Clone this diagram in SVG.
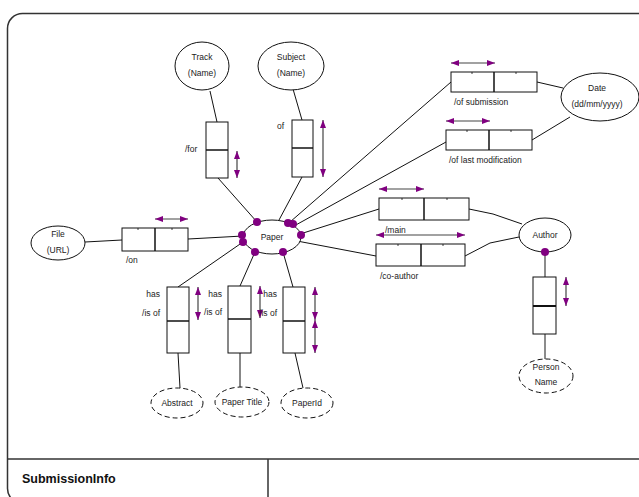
<svg xmlns="http://www.w3.org/2000/svg" width="639" height="497" viewBox="0 0 639 497">
<style>
text{font-family:"Liberation Sans",Arial,sans-serif;font-size:8.5px;fill:#222}
.c{text-anchor:middle}
.r{text-anchor:end}
.b{font-weight:bold;font-size:12.5px;fill:#111}
.ell{fill:#fff;stroke:#111;stroke-width:1}
.dash{fill:#fff;stroke:#111;stroke-width:1;stroke-dasharray:5,3}
.box{fill:#fff;stroke:#111;stroke-width:1}
.div{stroke:#111;stroke-width:1.5}
.ln{stroke:#111;stroke-width:1;fill:none}
.gl{stroke:#666;stroke-width:1.5;fill:none}
.arr{stroke:#444;stroke-width:1.2;marker-start:url(#ah);marker-end:url(#ah)}
.dot{fill:#800080}
.tk{stroke:#111;stroke-width:0.8}
</style>
<defs>
<marker id="ah" viewBox="0 0 8 6" refX="8" refY="3" markerWidth="8" markerHeight="6" markerUnits="userSpaceOnUse" orient="auto-start-reverse"><path d="M0,0 L8,3 L0,6 z" fill="#800080"/></marker>
</defs>
<rect x="7.5" y="13.5" width="645" height="490" rx="15" fill="#fff" stroke="#333" stroke-width="1.5"/>
<line x1="7" y1="459" x2="639" y2="459" stroke="#333" stroke-width="1.5"/>
<line x1="268" y1="459" x2="268" y2="497" stroke="#333" stroke-width="1.5"/>
<text class="b" x="22" y="483">SubmissionInfo</text>

<g id="connectors">
<line class="ln" x1="210" y1="91" x2="217" y2="122"/>
<line class="ln" x1="218" y1="178" x2="257" y2="222"/>
<line class="ln" x1="293" y1="89" x2="302" y2="120"/>
<line class="ln" x1="302" y1="177" x2="279" y2="220"/>
<line class="ln" x1="290" y1="222" x2="451" y2="82"/>
<line class="ln" x1="294" y1="226" x2="446" y2="142"/>
<line class="ln" x1="537" y1="82" x2="563" y2="88"/>
<line class="ln" x1="532" y1="140" x2="570" y2="117"/>
<line class="ln" x1="85" y1="242" x2="122" y2="240"/>
<line class="ln" x1="188" y1="239" x2="243" y2="236"/>
<line class="ln" x1="300" y1="234" x2="379" y2="209"/>
<line class="ln" x1="297" y1="241" x2="376" y2="256"/>
<polyline class="ln" points="469,209 493,214 522,224"/>
<polyline class="ln" points="465,256 490,243 519,237"/>
<line class="gl" x1="545" y1="252" x2="545" y2="277"/>
<line class="gl" x1="545" y1="334" x2="545" y2="359"/>
<line class="ln" x1="178" y1="287" x2="243" y2="242"/>
<line class="ln" x1="178" y1="353" x2="180" y2="388"/>
<line class="ln" x1="240" y1="286" x2="255" y2="252"/>
<line class="ln" x1="240" y1="353" x2="240" y2="388"/>
<line class="ln" x1="293" y1="287" x2="283" y2="252"/>
<line class="ln" x1="295" y1="353" x2="303" y2="388"/>
</g>

<g id="paper">
<ellipse class="ell" cx="272" cy="237" rx="29" ry="17"/>
<text class="c" x="272" y="240">Paper</text>
<circle class="dot" cx="257" cy="222" r="4"/>
<circle class="dot" cx="288" cy="223" r="4"/>
<circle class="dot" cx="293" cy="224" r="4"/>
<circle class="dot" cx="301" cy="235" r="4"/>
<circle class="dot" cx="242" cy="235" r="4"/>
<circle class="dot" cx="243" cy="242" r="4"/>
<circle class="dot" cx="255" cy="252" r="4"/>
<circle class="dot" cx="283" cy="252" r="4"/>
</g>

<g id="track">
<ellipse class="ell" cx="202" cy="66" rx="27" ry="24"/>
<text class="c" x="202" y="60">Track</text>
<text class="c" x="202" y="76">(Name)</text>
</g>
<g id="track-rel">
<rect class="box" x="206" y="122" width="22" height="56"/>
<line class="div" x1="206" y1="150" x2="228" y2="150"/>
<line class="arr" x1="237" y1="151" x2="237" y2="178"/>
<text x="185" y="152">/for</text>
</g>

<g id="subject">
<ellipse class="ell" cx="291" cy="66" rx="33" ry="24"/>
<text class="c" x="291" y="60">Subject</text>
<text class="c" x="291" y="76">(Name)</text>
</g>
<g id="subject-rel">
<rect class="box" x="292" y="120" width="21" height="57"/>
<line class="div" x1="292" y1="148" x2="313" y2="148"/>
<line class="arr" x1="323" y1="120" x2="323" y2="177"/>
<text x="277" y="129">of</text>
</g>

<g id="submission-rel">
<rect class="box" x="451" y="72" width="86" height="20"/>
<line class="div" x1="494" y1="72" x2="494" y2="92"/>
<line class="tk" x1="472" y1="72" x2="472" y2="74"/>
<line class="tk" x1="516" y1="72" x2="516" y2="74"/>
<line class="arr" x1="451" y1="63" x2="495" y2="63"/>
<text x="454" y="105">/of submission</text>
</g>
<g id="lastmod-rel">
<rect class="box" x="446" y="130" width="86" height="20"/>
<line class="div" x1="489" y1="130" x2="489" y2="150"/>
<line class="tk" x1="467" y1="130" x2="467" y2="132"/>
<line class="tk" x1="511" y1="130" x2="511" y2="132"/>
<line class="arr" x1="446" y1="121" x2="490" y2="121"/>
<text x="449" y="163">/of last modification</text>
</g>
<g id="date">
<ellipse class="ell" cx="600" cy="97" rx="39" ry="24"/>
<text class="c" x="597" y="91">Date</text>
<text class="c" x="597" y="107">(dd/mm/yyyy)</text>
</g>

<g id="file">
<ellipse class="ell" cx="58" cy="243" rx="27" ry="17"/>
<text class="c" x="58" y="237">File</text>
<text class="c" x="58" y="253">(URL)</text>
</g>
<g id="on-rel">
<rect class="box" x="122" y="228" width="66" height="23"/>
<line class="div" x1="155" y1="228" x2="155" y2="251"/>
<line class="tk" x1="138" y1="228" x2="138" y2="230"/>
<line class="tk" x1="172" y1="228" x2="172" y2="230"/>
<line class="arr" x1="155" y1="219" x2="188" y2="219"/>
<text x="126" y="263">/on</text>
</g>

<g id="main-rel">
<rect class="box" x="379" y="198" width="90" height="22"/>
<line class="div" x1="424" y1="198" x2="424" y2="220"/>
<line class="tk" x1="402" y1="198" x2="402" y2="200"/>
<line class="tk" x1="447" y1="198" x2="447" y2="200"/>
<line class="arr" x1="379" y1="189" x2="424" y2="189"/>
<text x="385" y="233">/main</text>
</g>
<g id="coauthor-rel">
<line class="arr" x1="376" y1="235" x2="465" y2="235"/>
<rect class="box" x="376" y="244" width="89" height="22"/>
<line class="div" x1="421" y1="244" x2="421" y2="266"/>
<line class="tk" x1="398" y1="244" x2="398" y2="246"/>
<line class="tk" x1="443" y1="244" x2="443" y2="246"/>
<text x="380" y="279">/co-author</text>
</g>
<g id="author">
<ellipse class="ell" cx="545" cy="235" rx="26" ry="17"/>
<text class="c" x="545" y="238">Author</text>
<circle class="dot" cx="545" cy="252" r="4"/>
</g>
<g id="person-rel">
<rect class="box" x="533" y="277" width="23" height="57"/>
<line x1="533" y1="306" x2="556" y2="306" stroke="#111" stroke-width="2"/>
<line class="arr" x1="566" y1="277" x2="566" y2="306"/>
</g>
<g id="person-name">
<ellipse class="dash" cx="546" cy="376" rx="27" ry="17"/>
<text class="c" x="546" y="370">Person</text>
<text class="c" x="546" y="385">Name</text>
</g>

<g id="abstract-rel">
<rect class="box" x="167" y="287" width="22" height="66"/>
<line class="div" x1="167" y1="321" x2="189" y2="321"/>
<line class="arr" x1="198" y1="287" x2="198" y2="320"/>
<text class="r" x="160" y="297">has</text>
<text class="r" x="160" y="316">/is of</text>
</g>
<g id="abstract">
<ellipse class="dash" cx="177" cy="403" rx="26" ry="15"/>
<text class="c" x="177" y="406">Abstract</text>
</g>

<g id="title-rel">
<rect class="box" x="228" y="286" width="23" height="67"/>
<line class="div" x1="228" y1="319" x2="251" y2="319"/>
<line class="arr" x1="260" y1="286" x2="260" y2="318"/>
<text class="r" x="222" y="297">has</text>
<text class="r" x="222" y="315">/is of</text>
</g>
<g id="title">
<ellipse class="dash" cx="242" cy="402" rx="27" ry="15"/>
<text class="c" x="242" y="405">Paper Title</text>
</g>

<g id="paperid-rel">
<rect class="box" x="283" y="287" width="22" height="66"/>
<line class="div" x1="283" y1="321" x2="305" y2="321"/>
<line class="arr" x1="315" y1="287" x2="315" y2="320"/>
<line class="arr" x1="315" y1="320" x2="315" y2="353"/>
<text class="r" x="277" y="297">has</text>
<text class="r" x="277" y="316">/is of</text>
</g>
<g id="paperid">
<ellipse class="dash" cx="307" cy="403" rx="26" ry="15"/>
<text class="c" x="307" y="406">PaperId</text>
</g>
</svg>
